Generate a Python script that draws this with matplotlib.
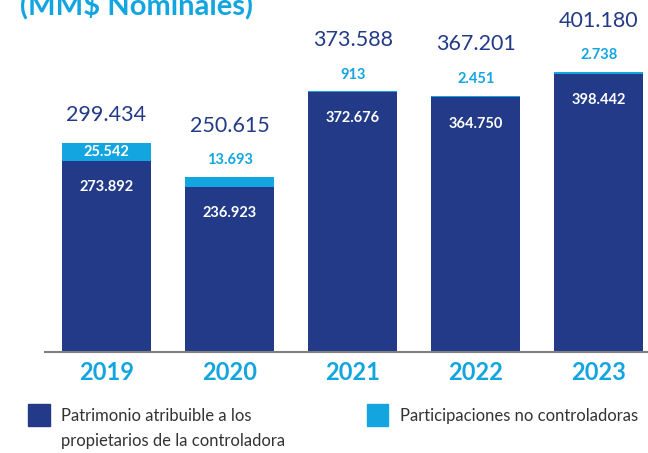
import matplotlib
matplotlib.use("Agg")
from matplotlib import pyplot as plt
from matplotlib.patches import Rectangle

years = ["2019", "2020", "2021", "2022", "2023"]
controladora = [273892, 236923, 372676, 364750, 398442]
no_controladoras = [25542, 13693, 913, 2451, 2738]
totals = [299434, 250615, 373588, 367201, 401180]

DARK = "#223a88"
LIGHT = "#12a5e0"
TEXT = "#333333"

plt.rcParams["font.family"] = ["Lato", "DejaVu Sans"]


def fmt(v):
    return f"{v:,}".replace(",", ".")


fig = plt.figure(figsize=(6.48, 4.53), dpi=100)
ax = fig.add_axes([45 / 648, (453 - 352) / 453, 603 / 648, 352 / 453])

x = range(len(years))
ax.bar(x, controladora, width=0.72, color=DARK)
ax.bar(x, no_controladoras, width=0.72, bottom=controladora, color=LIGHT)

ax.set_xlim(-0.5, 4.4)
ax.set_ylim(0, 504300)
ax.axis("off")
ax.axhline(0, color="#808080", lw=1.5, clip_on=False)

for i in x:
    top = controladora[i] + no_controladoras[i]
    ax.annotate(fmt(controladora[i]), (i, controladora[i]), xytext=(0, -19),
                textcoords="offset points", ha="center", va="center",
                color="white", fontsize=10.5, fontweight="bold")
    if no_controladoras[i] > 20000:
        # big enough to hold its own label
        ax.annotate(fmt(no_controladoras[i]), (i, controladora[i] + no_controladoras[i] / 2),
                    ha="center", va="center", color="white", fontsize=10.5, fontweight="bold")
        off = 20
    else:
        ax.annotate(fmt(no_controladoras[i]), (i, top), xytext=(0, 12),
                    textcoords="offset points", ha="center", va="center",
                    color=LIGHT, fontsize=10.5, fontweight="bold")
        off = 37
    ax.annotate(fmt(totals[i]), (i, top), xytext=(0, off),
                textcoords="offset points", ha="center", va="center",
                color=DARK, fontsize=15.5)
    ax.annotate(years[i], (i, 0), xytext=(0, -15), textcoords="offset points",
                ha="center", va="center", color=LIGHT, fontsize=17, fontweight="bold")

fig.text(20 / 648, 1 - 14 / 453, "(MM$ Nominales)", color=LIGHT, fontsize=21,
         fontweight="bold", ha="left", va="baseline")

# legend
fig.patches.append(Rectangle((28 / 648, 1 - 426 / 453), 22 / 648, 22 / 453,
                             transform=fig.transFigure, color=DARK))
fig.patches.append(Rectangle((367 / 648, 1 - 426 / 453), 21 / 648, 22 / 453,
                             transform=fig.transFigure, color=LIGHT))
fig.text(61 / 648, 1 - 416 / 453, "Patrimonio atribuible a los",
         color=TEXT, fontsize=12, ha="left", va="center")
fig.text(61 / 648, 1 - 441 / 453, "propietarios de la controladora",
         color=TEXT, fontsize=12, ha="left", va="center")
fig.text(400 / 648, 1 - 416 / 453, "Participaciones no controladoras",
         color=TEXT, fontsize=12, ha="left", va="center")

fig.savefig("out.png", dpi=100)
